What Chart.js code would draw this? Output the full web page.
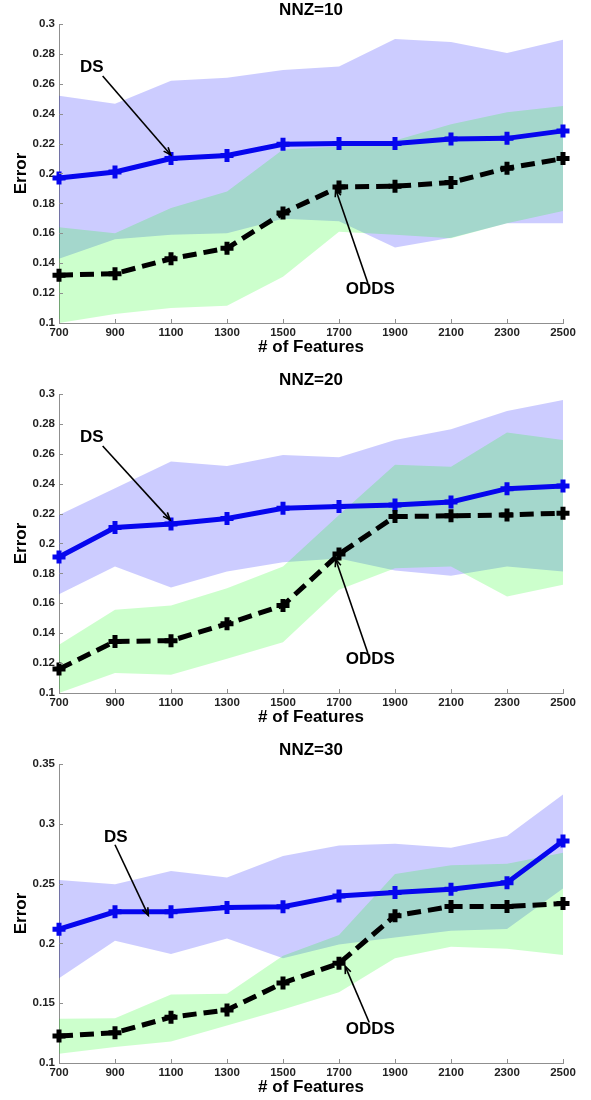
<!DOCTYPE html>
<html><head><meta charset="utf-8">
<script src="https://cdn.jsdelivr.net/npm/chart.js@4.4.1/dist/chart.umd.min.js"></script>
<style>
html,body{margin:0;padding:0;background:#fff;overflow:hidden;width:591px;height:1100px;}
.panel{position:absolute;left:0;width:591px;height:370px;}
canvas{display:block;}
</style></head><body>
<div class="panel" style="top:0"><canvas id="c1" width="591" height="370"></canvas></div>
<div class="panel" style="top:370px"><canvas id="c2" width="591" height="370"></canvas></div>
<div class="panel" style="top:740px"><canvas id="c3" width="591" height="370"></canvas></div>
<script>
// ---------- data ----------
const features = [700, 900, 1100, 1300, 1500, 1700, 1900, 2100, 2300, 2500];
const xTickLabels = ['700', '900', '1100', '1300', '1500', '1700', '1900', '2100', '2300', '2500'];
const yTicksA = [0.1, 0.12, 0.14, 0.16, 0.18, 0.2, 0.22, 0.24, 0.26, 0.28, 0.3];
const yTickLabelsA = ['0.1', '0.12', '0.14', '0.16', '0.18', '0.2', '0.22', '0.24', '0.26', '0.28', '0.3'];
const yTicksB = [0.1, 0.15, 0.2, 0.25, 0.3, 0.35];
const yTickLabelsB = ['0.1', '0.15', '0.2', '0.25', '0.3', '0.35'];

// NNZ = 10
const ds10 = [0.197, 0.201, 0.210, 0.212, 0.2195, 0.220, 0.220, 0.223, 0.2235, 0.2285];
const odds10 = [0.132, 0.133, 0.143, 0.150, 0.1735, 0.191, 0.1915, 0.194, 0.2035, 0.210];
const ds10Upper = [0.252, 0.2466, 0.262, 0.264, 0.2693, 0.2715, 0.290, 0.288, 0.2806, 0.2895];
const ds10Lower = [0.143, 0.156, 0.159, 0.160, 0.1697, 0.168, 0.1505, 0.157, 0.1668, 0.1668];
const odds10Upper = [0.164, 0.160, 0.177, 0.188, 0.216, 0.218, 0.222, 0.2330, 0.241, 0.2452];
const odds10Lower = [0.100, 0.106, 0.110, 0.1116, 0.131, 0.161, 0.159, 0.1567, 0.1668, 0.175];

// NNZ = 20
const ds20 = [0.191, 0.2107, 0.2131, 0.2167, 0.2236, 0.2247, 0.2258, 0.2278, 0.2367, 0.2385];
const odds20 = [0.116, 0.1345, 0.135, 0.1463, 0.1586, 0.1929, 0.218, 0.2185, 0.2191, 0.2203];
const ds20Upper = [0.2191, 0.237, 0.2548, 0.2519, 0.2592, 0.2577, 0.2693, 0.2764, 0.2886, 0.296];
const ds20Lower = [0.1661, 0.1846, 0.1706, 0.1813, 0.1875, 0.190, 0.182, 0.1784, 0.1846, 0.1813];
const odds20Upper = [0.1323, 0.1557, 0.1586, 0.170, 0.1846, 0.219, 0.2526, 0.2514, 0.2742, 0.2693];
const odds20Lower = [0.100, 0.1134, 0.1122, 0.1229, 0.134, 0.169, 0.1835, 0.1846, 0.1646, 0.1724];

// NNZ = 30
const ds30 = [0.2119, 0.2264, 0.2264, 0.230, 0.2306, 0.2397, 0.2425, 0.2453, 0.2508, 0.2856];
const odds30 = [0.1225, 0.1253, 0.1383, 0.1444, 0.1669, 0.1833, 0.2231, 0.2308, 0.2308, 0.2333];
const ds30Upper = [0.2531, 0.2494, 0.2606, 0.255, 0.2731, 0.2819, 0.2833, 0.280, 0.2897, 0.3244];
const ds30Lower = [0.1708, 0.2022, 0.1911, 0.2042, 0.1875, 0.199, 0.205, 0.2106, 0.212, 0.2458];
const odds30Upper = [0.1369, 0.1375, 0.1572, 0.1578, 0.1897, 0.207, 0.258, 0.2653, 0.2667, 0.2758];
const odds30Lower = [0.1078, 0.1133, 0.118, 0.1314, 0.1447, 0.1592, 0.1875, 0.1972, 0.1955, 0.1903];

// annotation anchors in data space: [feature, error]
const notes10 = [
  {label: 'DS', text: [817, 0.271], from: [856, 0.2652], to: [1099, 0.2125]},
  {label: 'ODDS', text: [1812, 0.1225], from: [1803, 0.1268], to: [1688, 0.1895]}
];
const notes20 = [
  {label: 'DS', text: [817, 0.271], from: [856, 0.2652], to: [1097, 0.2158]},
  {label: 'ODDS', text: [1812, 0.1225], from: [1803, 0.1268], to: [1688, 0.1895]}
];
const notes30 = [
  {label: 'DS', text: [903, 0.2889], from: [900, 0.2825], to: [1019, 0.2235]},
  {label: 'ODDS', text: [1812, 0.1278], from: [1808, 0.1339], to: [1722, 0.181]}
];

// ---------- rendering ----------
const FONT = "'Liberation Sans', Arial, Helvetica, sans-serif";
const AXIS = '#8f8f8f';

const decor = {
  id: 'decor',
  afterDraw(chart, args, o) {
    const {ctx, chartArea: a, scales: {x, y}} = chart;
    ctx.save();
    ctx.strokeStyle = AXIS; ctx.lineWidth = 1;
    ctx.beginPath();
    x.ticks.forEach(t => {
      const px = Math.round(x.getPixelForValue(t.value)) + 0.5;
      ctx.moveTo(px, a.bottom); ctx.lineTo(px, a.bottom - 4);
    });
    y.ticks.forEach(t => {
      const py = Math.round(y.getPixelForValue(t.value)) + 0.5;
      ctx.moveTo(a.left, py); ctx.lineTo(a.left + 4, py);
    });
    ctx.stroke();

    ctx.fillStyle = '#000';
    ctx.font = 'bold 17px ' + FONT;
    ctx.textAlign = 'center'; ctx.textBaseline = 'middle';
    ctx.fillText(o.title, (a.left + a.right) / 2, a.top - 14);
    ctx.fillText('# of Features', (a.left + a.right) / 2, a.bottom + 24);
    ctx.save();
    ctx.translate(21, (a.top + a.bottom) / 2);
    ctx.rotate(-Math.PI / 2);
    ctx.fillText('Error', 0, 0);
    ctx.restore();

    o.notes.forEach(n => {
      ctx.fillStyle = '#000';
      ctx.fillText(n.label, x.getPixelForValue(n.text[0]), y.getPixelForValue(n.text[1]));
      const sx = x.getPixelForValue(n.from[0]), sy = y.getPixelForValue(n.from[1]);
      const ex = x.getPixelForValue(n.to[0]), ey = y.getPixelForValue(n.to[1]);
      ctx.strokeStyle = '#000'; ctx.lineWidth = 1.6;
      ctx.beginPath(); ctx.moveTo(sx, sy); ctx.lineTo(ex, ey); ctx.stroke();
      const ang = Math.atan2(ey - sy, ex - sx), L = 8, w = 0.38;
      ctx.beginPath();
      ctx.moveTo(ex - L * Math.cos(ang - w), ey - L * Math.sin(ang - w));
      ctx.lineTo(ex, ey);
      ctx.lineTo(ex - L * Math.cos(ang + w), ey - L * Math.sin(ang + w));
      ctx.stroke();
    });
    ctx.restore();
  }
};

function pts(arr) { return features.map((f, i) => ({x: f, y: arr[i]})); }

function makeChart(id, title, s, yTicks, yLabels, notes) {
  const band = (data, color, fill, order) => ({
    data: pts(data), borderWidth: 0, pointRadius: 0, backgroundColor: color,
    fill: fill, order: order, tension: 0
  });
  new Chart(document.getElementById(id), {
    type: 'line',
    data: {
      datasets: [
        band(s.dsU, 'rgba(0,0,255,0.2)', '+1', 10),
        band(s.dsL, 'rgba(0,0,255,0.2)', false, 10),
        band(s.odU, 'rgba(0,255,0,0.2)', '+1', 9),
        band(s.odL, 'rgba(0,255,0,0.2)', false, 9),
        {
          label: 'DS', data: pts(s.ds), borderColor: '#0606ee', borderWidth: 5,
          pointStyle: 'cross', pointRadius: 6.5, pointBorderWidth: 5,
          pointBorderColor: '#0606ee', fill: false, order: 2, clip: false, tension: 0
        },
        {
          label: 'ODDS', data: pts(s.od), borderColor: '#000', borderWidth: 5, borderDash: [14, 7],
          pointStyle: 'cross', pointRadius: 6.5, pointBorderWidth: 5,
          pointBorderColor: '#000', fill: false, order: 1, clip: false, tension: 0
        }
      ]
    },
    options: {
      responsive: false, animation: false, devicePixelRatio: 1, events: [],
      layout: {padding: {top: 24, right: 28, bottom: 0, left: 0}},
      plugins: {
        legend: {display: false}, tooltip: {enabled: false},
        decor: {title: title, notes: notes}
      },
      scales: {
        x: {
          type: 'linear', min: features[0], max: features[features.length - 1],
          afterBuildTicks: sc => { sc.ticks = features.map(v => ({value: v})); },
          afterFit: sc => { sc.height = 47; },
          grid: {display: false, drawTicks: false},
          border: {display: true, color: AXIS, width: 1},
          ticks: {
            padding: 2.5, maxRotation: 0, autoSkip: false, color: '#222',
            font: {family: FONT, size: 11.5, weight: 'bold'},
            callback: (v, i) => xTickLabels[i]
          }
        },
        y: {
          type: 'linear', min: yTicks[0], max: yTicks[yTicks.length - 1],
          afterBuildTicks: sc => { sc.ticks = yTicks.map(v => ({value: v})); },
          afterFit: sc => { sc.width = 59; },
          grid: {display: false, drawTicks: false},
          border: {display: true, color: AXIS, width: 1},
          ticks: {
            padding: 4, color: '#222', autoSkip: false,
            font: {family: FONT, size: 11.5, weight: 'bold'},
            callback: (v, i) => yLabels[i]
          }
        }
      }
    },
    plugins: [decor]
  });
}

makeChart('c1', 'NNZ=10',
  {ds: ds10, od: odds10, dsU: ds10Upper, dsL: ds10Lower, odU: odds10Upper, odL: odds10Lower},
  yTicksA, yTickLabelsA, notes10);
makeChart('c2', 'NNZ=20',
  {ds: ds20, od: odds20, dsU: ds20Upper, dsL: ds20Lower, odU: odds20Upper, odL: odds20Lower},
  yTicksA, yTickLabelsA, notes20);
makeChart('c3', 'NNZ=30',
  {ds: ds30, od: odds30, dsU: ds30Upper, dsL: ds30Lower, odU: odds30Upper, odL: odds30Lower},
  yTicksB, yTickLabelsB, notes30);
</script>
</body></html>
